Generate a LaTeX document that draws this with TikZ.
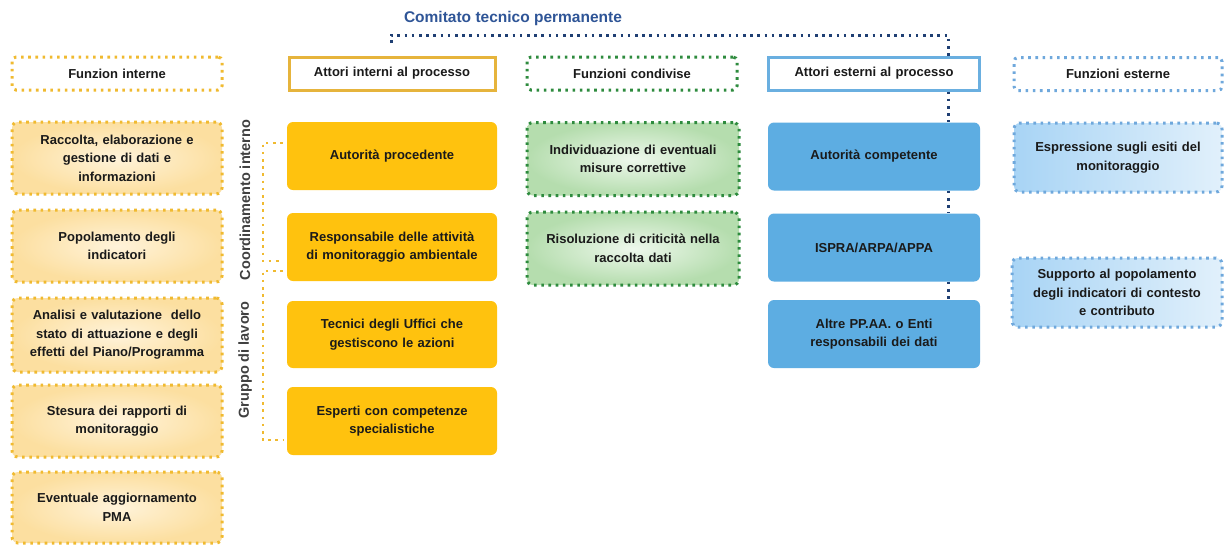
\documentclass[tikz,border=0pt]{standalone}
\usepackage{fontspec}
\setmainfont{Liberation Sans}
\definecolor{txt}{HTML}{1A1A1A}
\definecolor{orgdot}{HTML}{F0BA30}
\definecolor{orgA}{HTML}{FCDFA0}
\definecolor{orgB}{HTML}{FFF3DA}
\definecolor{gold}{HTML}{FFC20E}
\definecolor{goldline}{HTML}{E6B43C}
\definecolor{grndot}{HTML}{2E8B3E}
\definecolor{grnA}{HTML}{EEF8EC}
\definecolor{grnB}{HTML}{B5DDAE}
\definecolor{bluebox}{HTML}{5DADE2}
\definecolor{blueline}{HTML}{6AAFE0}
\definecolor{ltbdot}{HTML}{6FA8DC}
\definecolor{bluA}{HTML}{A8D4F5}
\definecolor{bluB}{HTML}{E1F0FB}
\definecolor{navy}{HTML}{1F3F73}
\definecolor{titleblue}{HTML}{2F5597}
\begin{document}
\begin{tikzpicture}[x=1pt,y=-1pt,
  every node/.style={font=\bfseries\fontsize{13}{18.5}\selectfont, text=txt, align=center, inner sep=0pt},
  dots/.style={line width=3pt, dash pattern=on 2.6pt off 4.6pt},
  hdr/.style={minimum height=33pt, text width=#1, fill=white},
  boxA/.style={rounded corners=6pt, minimum width=210pt, text width=200pt},
  hdrorg/.style={hdr=210pt, draw=orgdot, dots, rounded corners=4pt},
  hdrgold/.style={hdr=206pt, draw=goldline, line width=3pt},
  hdrgrn/.style={hdr=210pt, draw=grndot, dots, rounded corners=4pt},
  hdrblue/.style={hdr=211pt, draw=blueline, line width=3pt},
  hdrltb/.style={hdr=208pt, draw=ltbdot, dots, rounded corners=4pt},
  orgitem/.style={boxA, draw=orgdot, dots, inner color=orgB, outer color=orgA},
  golditem/.style={boxA, fill=gold},
  grnitem/.style={boxA, minimum width=212pt, draw=grndot, dots, inner color=grnA, outer color=grnB},
  blueitem/.style={boxA, minimum width=212pt, fill=bluebox},
  ltbitem/.style={boxA, minimum width=208pt, draw=ltbdot, dots, left color=bluA, right color=bluB},
  navydots/.style={dots, draw=navy},
  brdots/.style={dots, draw=orgdot, line width=2.6pt},
  vlabel/.style={rotate=90, text=black!75, font=\bfseries\fontsize{14.5}{16}\selectfont}
]
\useasboundingbox[fill=white] (0,0) rectangle (1224,547);

% title
\node[text=titleblue, font=\bfseries\fontsize{15.5}{17}\selectfont] (title) at (513,18) {Comitato tecnico permanente};

% headers
\node[hdrorg] (h1) at (117,73.5) {Funzion interne};
\node[hdrgold] (h2) at (392,73.5) {Attori interni al processo};
\node[hdrgrn] (h3) at (632,73.5) {Funzioni condivise};
\node[hdrblue] (h4) at (874,73.5) {Attori esterni al processo};
\node[hdrltb] (h5) at (1118,74) {Funzioni esterne};

% column 1
\node[orgitem, minimum height=72pt] (f1) at (117,158) {Raccolta, elaborazione e\\gestione di dati e\\informazioni};
\node[orgitem, minimum height=72pt] (f2) at (117,246) {Popolamento degli\\indicatori};
\node[orgitem, minimum height=74pt] (f3) at (117,335) {Analisi e valutazione\ \ dello\\stato di attuazione e degli\\effetti del Piano/Programma};
\node[orgitem, minimum height=72pt] (f4) at (117,421) {Stesura dei rapporti di\\monitoraggio};
\node[orgitem, minimum height=71pt] (f5) at (117,507.5) {Eventuale aggiornamento\\PMA};

% column 2
\node[golditem, minimum height=68pt] (i1) at (392,156) {Autorità procedente};
\node[golditem, minimum height=68pt] (i2) at (392,247) {Responsabile delle attività\\di monitoraggio ambientale};
\node[golditem, minimum height=67pt] (i3) at (392,334.5) {Tecnici degli Uffici che\\gestiscono le azioni};
\node[golditem, minimum height=68pt] (i4) at (392,421) {Esperti con competenze\\specialistiche};

% vertical labels
\node[vlabel] (v1) at (245,200) {Coordinamento interno};
\node[vlabel] (v2) at (245,360) {Gruppo di lavoro};

% brackets
\draw[brdots] ([xshift=-4pt,yshift=13pt]i1.west) -- ++(-20,0) |- ([xshift=-4pt,yshift=-14pt]i2.west);
\draw[brdots] ([xshift=-4pt,yshift=-24pt]i2.west) -- ++(-20,0) |- ([xshift=-4pt,yshift=-19pt]i4.west);

% column 3
\node[grnitem, minimum height=73pt] (g1) at (633,159) {Individuazione di eventuali\\misure correttive};
\node[grnitem, minimum height=73pt] (g2) at (633,248.5) {Risoluzione di criticità nella\\raccolta dati};

% column 4
\node[blueitem, minimum height=68pt] (a1) at (874,156.5) {Autorità competente};
\node[blueitem, minimum height=68pt] (a2) at (874,247.5) {ISPRA/ARPA/APPA};
\node[blueitem, minimum height=68pt] (a3) at (874,334) {Altre PP.AA. o Enti\\responsabili dei dati};

% column 5
\node[ltbitem, minimum height=69pt] (e1) at (1118,157.5) {Espressione sugli esiti del\\monitoraggio};
\node[ltbitem, minimum height=69pt, minimum width=210pt] (e2) at (1117,292.5) {Supporto al popolamento\\degli indicatori di contesto\\e contributo};

% committee connector
\coordinate (cl) at (391,43);
\coordinate (cr) at (948,35);
\draw[navydots] (cl) |- (cr) -- (cr |- h4.north);
\draw[navydots] (cr |- h4.south) -- (cr |- a1.north);
\draw[navydots] (cr |- a1.south) -- (cr |- a2.north);
\draw[navydots] (cr |- a2.south) -- (cr |- a3.north);
\end{tikzpicture}
\end{document}
